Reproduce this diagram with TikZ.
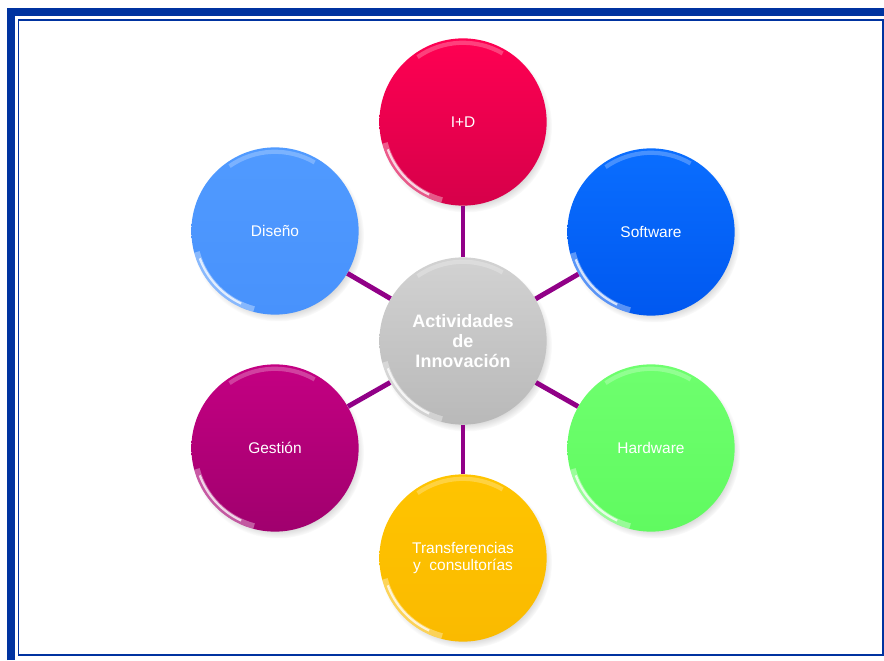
\documentclass[tikz,border=0pt]{standalone}
\usepackage{fontspec}
\setmainfont{Liberation Sans}
\usetikzlibrary{shadows, fadings}
\definecolor{frameblue}{RGB}{0,51,160}
\definecolor{linkpurple}{RGB}{145,0,135}
\definecolor{idtop}{RGB}{255,0,82}
\definecolor{idbot}{RGB}{214,0,74}
\definecolor{softtop}{RGB}{10,110,255}
\definecolor{softbot}{RGB}{0,88,240}
\definecolor{hardtop}{RGB}{110,255,110}
\definecolor{hardbot}{RGB}{96,250,96}
\definecolor{transtop}{RGB}{255,196,0}
\definecolor{transbot}{RGB}{250,186,0}
\definecolor{gesttop}{RGB}{196,0,130}
\definecolor{gestbot}{RGB}{160,0,110}
\definecolor{disetop}{RGB}{80,154,255}
\definecolor{disebot}{RGB}{72,146,252}
\definecolor{centop}{RGB}{210,210,210}
\definecolor{cenbot}{RGB}{185,185,185}
\tikzstyle{bubble} = [circle, minimum size=4.18cm, inner sep=0pt,
    text=white, align=center, font=\fontsize{11}{12.2}\selectfont,
    circular drop shadow={shadow xshift=2pt, shadow yshift=-3pt, shadow scale=1.03, opacity=.45},
    path picture={
        \draw[white, opacity=.35, line width=4pt]
            ([shift={(195:2.02cm)}]path picture bounding box.center) arc (195:255:2.02cm);
        \draw[white, opacity=.75, line width=1.6pt]
            ([shift={(200:2.0cm)}]path picture bounding box.center) arc (200:245:2.0cm);
        \draw[white, opacity=.25, line width=3pt]
            ([shift={(60:1.98cm)}]path picture bounding box.center) arc (60:125:1.98cm);
    }]
\tikzstyle{link} = [draw=linkpurple, line width=3.5pt]

\begin{document}
\begin{tikzpicture}[x=0.025cm, y=0.025cm]
        \useasboundingbox (0, 0) rectangle (884, 660);

        % frame
        \draw[frameblue, line width=5.7pt] (11, 0) -- (11, 648) -- (884, 648);
        \draw[frameblue, line width=1.4pt] (18.5, 5) rectangle (883, 640);

        \node[bubble, top color=centop, bottom color=cenbot, name=center,
            font=\bfseries\fontsize{12.8}{14}\selectfont] at (463, 319) {Actividades\\de\\Innovación};
        \node[bubble, top color=idtop, bottom color=idbot, name=iyd] at (463, 538) {I+D};
        \node[bubble, top color=softtop, bottom color=softbot, name=soft] at (651, 428) {Software};
        \node[bubble, top color=hardtop, bottom color=hardbot, name=hard] at (651, 212) {Hardware};
        \node[bubble, top color=transtop, bottom color=transbot, name=trans] at (463, 102) {Transferencias\\y~~consultorías};
        \node[bubble, top color=gesttop, bottom color=gestbot, name=gest] at (275, 212) {Gestión};
        \node[bubble, top color=disetop, bottom color=disebot, name=dise] at (275, 429) {Diseño};

        \draw[link] (center) -- (iyd);
        \draw[link] (center) -- (soft);
        \draw[link] (center) -- (hard);
        \draw[link] (center) -- (trans);
        \draw[link] (center) -- (gest);
        \draw[link] (center) -- (dise);
    \end{tikzpicture}
\end{document}
